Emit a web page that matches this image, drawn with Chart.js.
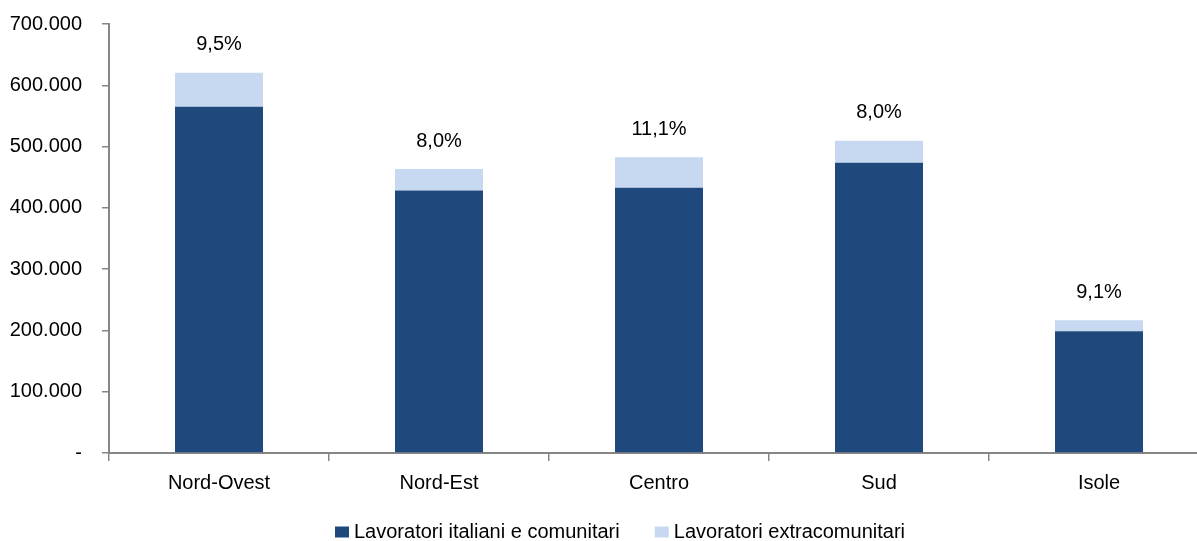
<!DOCTYPE html>
<html><head><meta charset="utf-8">
<script src="https://cdn.jsdelivr.net/npm/chart.js@4/dist/chart.umd.min.js"></script>
<style>
html,body{margin:0;padding:0;background:#fff;overflow:hidden;}
#clip{width:1197px;height:541px;overflow:hidden;position:relative;}
#wrap{width:1245px;height:541px;position:absolute;left:0;top:0;}
</style></head><body>
<div id="clip"><div id="wrap"><canvas id="c"></canvas></div></div>
<script>
const categories = ['Nord-Ovest', 'Nord-Est', 'Centro', 'Sud', 'Isole'];
const italianiComunitari = [565000, 428500, 432700, 473500, 198700];
const extracomunitari = [55500, 34800, 49700, 36000, 18000];
const quotaExtra = ['9,5%', '8,0%', '11,1%', '8,0%', '9,1%'];
const seriesNames = ['Lavoratori italiani e comunitari', 'Lavoratori extracomunitari'];
const yMin = 0, yMax = 700000, yStep = 100000;

const FONT = '"Liberation Sans", Arial, sans-serif';
const AXIS = '#868686';

function fmt(v) {
  if (v === 0) return '-';
  return String(v).replace(/\B(?=(\d{3})+(?!\d))/g, '.');
}

const pctPlugin = {
  id: 'pct',
  afterDatasetsDraw(chart) {
    const meta = chart.getDatasetMeta(1);
    const ctx = chart.ctx;
    ctx.save();
    ctx.font = '20px ' + FONT;
    ctx.fillStyle = '#000';
    ctx.textAlign = 'center';
    ctx.textBaseline = 'middle';
    meta.data.forEach((bar, i) => { ctx.fillText(quotaExtra[i], bar.x, bar.y - 28); });
    ctx.restore();
  }
};

new Chart(document.getElementById('c'), {
  type: 'bar',
  data: {
    labels: categories,
    datasets: [
      { label: seriesNames[0], data: italianiComunitari, backgroundColor: '#1F497D', borderWidth: 0 },
      { label: seriesNames[1], data: extracomunitari, backgroundColor: '#C6D9F1', borderWidth: 0 }
    ]
  },
  options: {
    responsive: true,
    maintainAspectRatio: false,
    animation: false,
    devicePixelRatio: 1,
    barPercentage: 0.4,
    categoryPercentage: 1,
    layout: { padding: { top: 24, right: 0, left: 0, bottom: 0 } },
    plugins: {
      tooltip: { enabled: false },
      legend: {
        position: 'bottom',
        maxHeight: 48,
        labels: {
          font: { family: FONT, size: 20 },
          color: '#000',
          boxWidth: 4,
          boxHeight: 1,
          padding: 29,
          generateLabels(chart) {
            return chart.data.datasets.map((ds, i) => ({
              text: ds.label + (i === 0 ? '  ' : ''),
              fillStyle: ds.backgroundColor,
              strokeStyle: ds.backgroundColor,
              lineWidth: 10,
              lineJoin: 'miter',
              lineCap: 'butt',
              lineDash: [],
              lineDashOffset: 0,
              hidden: false,
              datasetIndex: i
            }));
          }
        }
      }
    },
    scales: {
      x: {
        stacked: true,
        afterFit(s) { s.height = 40; },
        grid: { display: true, drawOnChartArea: false, drawTicks: true, tickLength: 8, color: AXIS, lineWidth: 1.5, offset: true },
        border: { display: true, color: AXIS, width: 2 },
        ticks: { font: { family: FONT, size: 20 }, color: '#000', padding: 10, maxRotation: 0 }
      },
      y: {
        stacked: true,
        min: yMin, max: yMax,
        afterFit(s) { s.width = 109; },
        grid: { display: true, drawOnChartArea: false, drawTicks: true, tickLength: 7, color: AXIS, lineWidth: 1.5 },
        border: { display: true, color: AXIS, width: 2 },
        ticks: { stepSize: yStep, font: { family: FONT, size: 20, lineHeight: 0.1 }, color: '#000', padding: 20, callback: (v) => fmt(v) }
      },
      yR: {
        type: 'linear',
        position: 'right',
        display: true,
        afterFit(s) { s.width = 36; },
        grid: { display: false },
        border: { display: false },
        ticks: { display: false }
      }
    }
  },
  plugins: [pctPlugin]
});
</script>
</body></html>
